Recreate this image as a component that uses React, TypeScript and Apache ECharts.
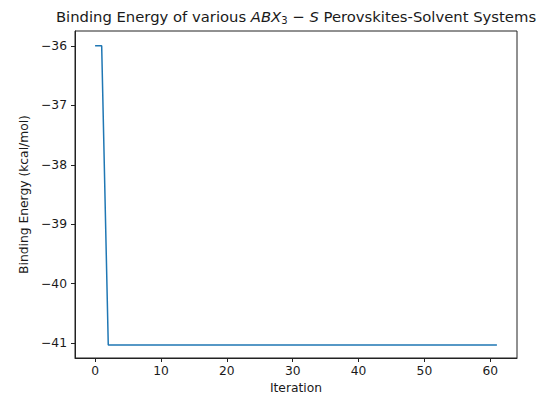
import React, { useEffect, useRef } from "react";
import * as echarts from "echarts";

const iterations: number[] = Array.from({ length: 62 }, (_, i) => i);
const bindingEnergy: number[] = [
  -36.0, -36.0, -41.03, -41.03, -41.03, -41.03, -41.03, -41.03, -41.03, -41.03,
  -41.03, -41.03, -41.03, -41.03, -41.03, -41.03, -41.03, -41.03, -41.03, -41.03,
  -41.03, -41.03, -41.03, -41.03, -41.03, -41.03, -41.03, -41.03, -41.03, -41.03,
  -41.03, -41.03, -41.03, -41.03, -41.03, -41.03, -41.03, -41.03, -41.03, -41.03,
  -41.03, -41.03, -41.03, -41.03, -41.03, -41.03, -41.03, -41.03, -41.03, -41.03,
  -41.03, -41.03, -41.03, -41.03, -41.03, -41.03, -41.03, -41.03, -41.03, -41.03,
  -41.03, -41.03,
];
const xTicks: number[] = [0, 10, 20, 30, 40, 50, 60];
const yTicks: number[] = [-41, -40, -39, -38, -37, -36];

const FONT = "DejaVu Sans";
const TXT = "#1a1a1a";
const FS = 12.3;
const TFS = 14.8;

export default function App() {
  const ref = useRef<HTMLDivElement>(null);
  useEffect(() => {
    if (!ref.current) return;
    const chart = echarts.init(ref.current, null, { renderer: "svg" });
    const fmt = (v: number) => (v < 0 ? "\u2212" + Math.abs(v) : String(v));
    chart.setOption({
      animation: false,
      backgroundColor: "#fff",
      grid: {
        left: 75,
        right: 22,
        top: 31,
        bottom: 38,
        show: true,
        borderColor: "#222",
        borderWidth: 1,
        backgroundColor: "transparent",
      },
      graphic: [
        {
          type: "text",
          x: 296,
          y: 16,
          style: {
            text: "Binding Energy of various {i|ABX}{s|3}{n| \u2212 }{i|S} Perovskites-Solvent Systems",
            fontFamily: FONT,
            fontSize: TFS,
            fill: TXT,
            align: "center",
            verticalAlign: "middle",
            rich: {
              i: { fontFamily: FONT, fontStyle: "italic", fontSize: TFS, fill: TXT, lineHeight: 18 },
              s: { fontFamily: FONT, fontSize: 10, fill: TXT, lineHeight: 18, verticalAlign: "bottom", padding: [8, 0, 0, 0] },
              n: { fontFamily: FONT, fontSize: TFS, fill: TXT, lineHeight: 18 },
            },
          },
        },
      ],
      xAxis: {
        type: "value",
        min: -3.05,
        max: 64.05,
        name: "Iteration",
        nameLocation: "middle",
        nameGap: 24,
        nameTextStyle: { fontFamily: FONT, fontSize: FS, color: TXT },
        splitLine: { show: false },
        axisLine: { show: true, onZero: false, lineStyle: { color: "#222", width: 1 } },
        axisTick: { show: true, inside: false, length: 4, customValues: xTicks, lineStyle: { color: "#222" } },
        axisLabel: {
          customValues: xTicks,
          formatter: fmt,
          fontFamily: FONT,
          fontSize: FS,
          color: TXT,
          margin: 7,
        },
      },
      yAxis: {
        type: "value",
        min: -41.25,
        max: -35.75,
        name: "Binding Energy (kcal/mol)",
        nameLocation: "middle",
        nameGap: 39,
        nameTextStyle: { fontFamily: FONT, fontSize: FS, color: TXT },
        splitLine: { show: false },
        axisLine: { show: true, onZero: false, lineStyle: { color: "#222", width: 1 } },
        axisTick: { show: true, inside: false, length: 4, customValues: yTicks, lineStyle: { color: "#222" } },
        axisLabel: {
          customValues: yTicks,
          formatter: fmt,
          fontFamily: FONT,
          fontSize: FS,
          color: TXT,
          margin: 8,
        },
      },
      series: [
        {
          type: "line",
          data: iterations.map((x, i) => [x, bindingEnergy[i]]),
          showSymbol: false,
          symbol: "none",
          lineStyle: { color: "#1f77b4", width: 1.5 },
        },
      ],
    });
    return () => chart.dispose();
  }, []);
  return (
    <div
      ref={ref}
      style={{ position: "fixed", left: 0, top: 0, width: 539, height: 399 }}
    />
  );
}
